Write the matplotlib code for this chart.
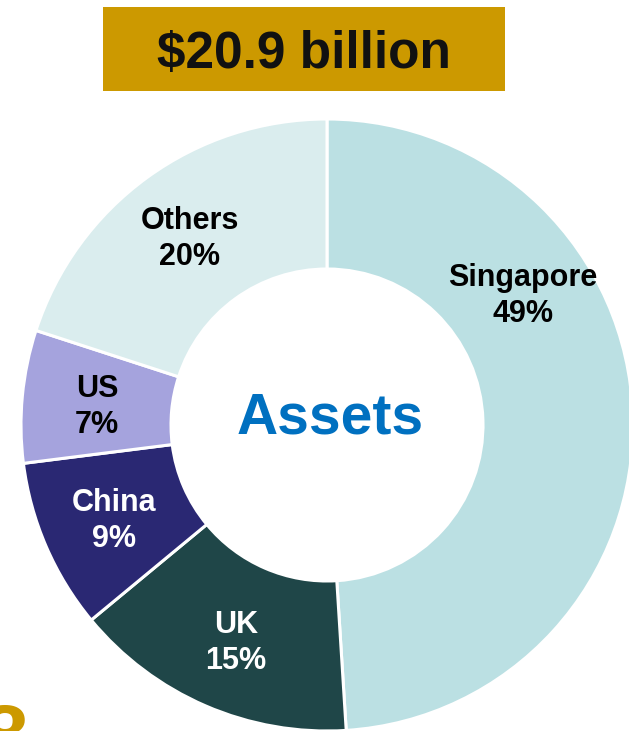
import matplotlib.pyplot as plt
from matplotlib.patches import Rectangle

# ==========================================
# DATA
# ==========================================
regions = ["Singapore", "UK", "China", "US", "Others"]
shares = [49, 15, 9, 7, 20]
colors = ["#BBE0E3", "#1F4648", "#2A2873", "#A5A3DD", "#DAEDEE"]
text_colors = ["black", "white", "white", "black", "black"]
total_label = "$20.9 billion"
center_label = "Assets"

# label anchor points in pixels (x, baseline of first line), y measured from top
LABEL_POS = {
    "Singapore": (523, 286),
    "UK": (236, 633),
    "China": (114, 511),
    "US": (97, 397),
    "Others": (190, 229),
}
LINE_GAP = 36

W, H = 629, 731
CX, CY = 327, 425      # donut centre (pixels from top-left)
R_OUT, R_IN = 306, 156

plt.rcParams['font.family'] = ['Liberation Sans', 'DejaVu Sans']

fig = plt.figure(figsize=(W / 100, H / 100), dpi=100)
ax = fig.add_axes([0, 0, 1, 1])

ax.pie(shares, colors=colors, startangle=90, counterclock=False,
       radius=R_OUT, center=(CX, H - CY),
       wedgeprops=dict(width=R_OUT - R_IN, edgecolor="white", linewidth=2.2))

ax.set_xlim(0, W)
ax.set_ylim(0, H)
ax.set_aspect('auto')
ax.axis('off')

# slice labels
for name, pct, tc in zip(regions, shares, text_colors):
    x, y = LABEL_POS[name]
    ax.text(x, H - y, name, ha='center', va='baseline', fontsize=22,
            fontweight='bold', color=tc)
    ax.text(x, H - y - LINE_GAP, f"{pct}%", ha='center', va='baseline',
            fontsize=22, fontweight='bold', color=tc)

# centre label
ax.text(330, H - 434, center_label, ha='center', va='baseline', fontsize=41,
        fontweight='bold', color="#0070C0")

# title box
ax.add_patch(Rectangle((103, H - 91), 402, 84, facecolor="#CC9900",
                       edgecolor="none"))
ax.text(304, H - 68, total_label, ha='center', va='baseline', fontsize=37,
        fontweight='bold', color="#111111")

# large gold glyph cropped by the bottom edge (only its top shows)
ax.text(28, H - 764, "8", ha='right', va='baseline', fontsize=62,
        fontweight='bold', color="#CC9900")

fig.savefig("out.png", dpi=100)
